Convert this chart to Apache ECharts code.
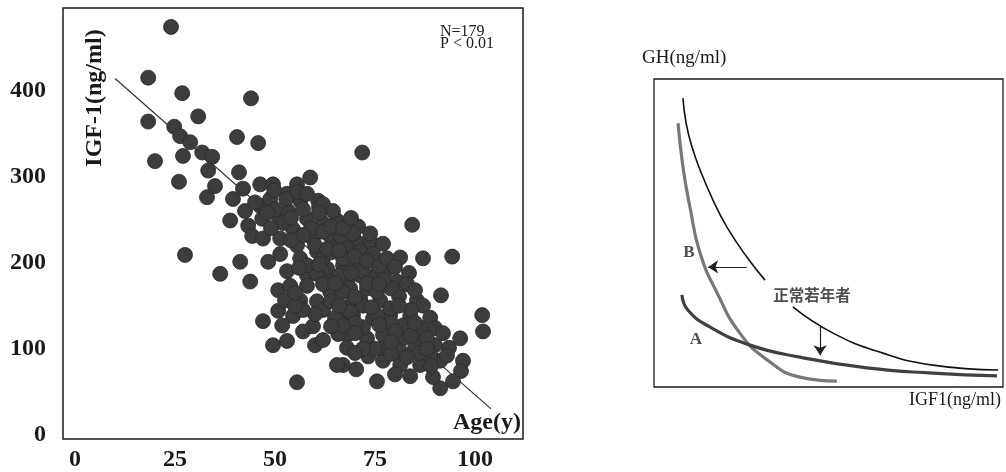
<!DOCTYPE html>
<html>
<head>
<meta charset="utf-8">
<script src="https://cdn.jsdelivr.net/npm/echarts@6/dist/echarts.min.js"></script>
<style>
html,body{margin:0;padding:0;background:#ffffff;}
#chart{width:1006px;height:472px;}
</style>
</head>
<body>
<div id="chart"></div>
<script>
// ---- Left panel: IGF-1 vs Age ----
const ageTicks = [0, 25, 50, 75, 100];
const igfTicks = [0, 100, 200, 300, 400];
const ageIgfPoints = [
  [24,474],[18.3,415],[26.8,397],[44,391],[18.3,364],[30.8,370],[24.8,358],[26.3,347],[28.8,340],[40.5,346],
  [45.8,339],[20,318],[27,324],[31.8,328],[34.3,323],[33.3,307],[41,305],[26,294],[35,289],[33,276],
  [58.8,299],[39.5,274],[38.8,249],[71.8,328],[27.5,209],[36.3,187],[41.3,201],[43.8,178],
  [42,286],[46.3,291],[49.5,291],[53,280],[55.5,291],[42.5,260],[46.3,266],[48.8,274],[56.3,272],[60.8,272],
  [43.3,243],[44.3,231],[47,228],[46.8,251],[50.8,254],[53.3,260],[51.3,228],[54.5,239],[58,251],[61.8,247],
  [65.5,249],[69.5,231],[63.8,231],[59.5,228],[55.5,220],[51.3,210],[48.3,201],[56.3,205],[60.5,213],[65.5,220],
  [67,197],[63,193],[58,185],[63.8,178],[68,178],
  [55.5,282],[52.8,274],[49.8,284],[61,264],[66.5,230],[71.3,222],[74,224],[75.3,200],[71.5,200],[62,268],
  [64.5,260],[70.8,242],[84.3,244],[77,222],
  [81.3,206],[87,205],[94.3,207],[77.8,191],[83.5,188],[80.5,178],[91.5,162],[81,161],[85.5,156],[101.8,139],
  [102,120],[88.8,136],[90,124],[96.3,112],[93.5,101],[90,104],[97,86],[96.5,74],[94.5,62],[91.3,54],
  [89.5,67],[83.8,68],[75.5,62],[70.3,76],[67,81],[73.3,91],[77,86],[81.3,81],[86.3,81],[91.3,86],
  [73,112],[78,120],[68,116],[68,101],[82,112],[86.3,109],[85,101],[81.3,97],[77,101],[88.8,92],
  [69.5,139],[74.5,135],[78.8,139],[83.8,138],[82,127],[86.3,124],[71.3,158],[76.3,156],[78.8,147],[68.8,150],
  [66.3,138],[68.8,170],[73,170],[75.5,166],[71.3,185],[74.5,184],[68,193],[71.3,213],[74.5,210],[68,216],
  [69.5,234],[73.8,234],[71.3,201],[67,205],
  [50.8,168],[53.8,173],[58,173],[50.8,144],[52.5,156],[56.3,156],[60.5,155],[47,132],[51.8,127],[54.5,138],
  [59.5,126],[49.5,104],[53,109],[60,104],[62,110],[65.8,117],[65,136],[65.5,81],[55.5,61],[63.8,166],
  [67,166],[60.5,187],[58,197],[72,190],[72,150],[75.5,139],[68.8,143],[77,116],
  [50,262],[52,246],[54,252],[57,262],[59,240],[62,236],[64,242],[67,240],[57,232],[60,220],
  [62,205],[64,212],[66,185],[69,188],[70,207],[73,202],[76,196],[78,205],[80,195],[79,170],
  [77,180],[83,175],[85,168],[87,150],[84,145],[81,150],[79,130],[76,128],[72,125],[70,130],
  [67,127],[64,126],[62,145],[64,155],[66,150],[60,140],[57,145],[55,150],[62,175],[65,176],
  [70,160],[74,148],[80,120],[84,115],[88,112],[86,95],[83,90],[79,94],[75,100],[72,100],
  [70,95],[79,108],[92,118],[93,92],[89,80],[80,70],[57,120],[55,165],[53,190],[56,194],
  [61,198],[63,216],[69,252],[54,226],[49,240],[45,270],[48,258],[58,280],[61,258],[66,214],
  [73,176],[76,175],[70,118],[85,130],[88,100]
];
const regressionLine = [[10,414],[104,30]];

// ---- Right panel: GH vs IGF1 schematic (arbitrary units 0-100) ----
const normalYoungA = [[8.3,93.8],[9.2,85.7],[10.9,77.9],[13.2,70.5],[16.9,60.7],[20.9,51.9],[26.6,42.2],[31.8,34.7]];
const normalYoungB = [[39.8,26.0],[51.3,17.5],[65.6,11.0],[79.9,7.1],[98.6,5.5]];
const curveB = [[6.9,85.7],[8.3,71.4],[10.3,58.4],[13.2,43.5],[18.1,30.5],[24.6,17.5],[32.4,8.8],[41.8,3.2],[52.4,1.9]];
const curveA = [[8.0,29.9],[9.7,25.0],[16.0,19.5],[27.5,13.6],[41.8,9.7],[61.0,6.2],[79.9,4.5],[98.3,3.6]];
const arrowShiftLeft = [[26.6,39.0],[15.5,39.0]];
const arrowShiftDown = [[47.6,19.5],[47.6,10.3]];

const serif = '"Liberation Serif","Times New Roman",serif';
const chart = echarts.init(document.getElementById('chart'), null, {renderer:'canvas'});

chart.setOption({
  backgroundColor: '#ffffff',
  animation: false,
  grid: [
    {left: 63, top: 8, width: 460, height: 433, show: true, borderColor: '#1a1a1a', borderWidth: 1.5, backgroundColor: 'transparent'},
    {left: 654, top: 79, width: 349, height: 308, show: true, borderColor: '#1a1a1a', borderWidth: 1.3, backgroundColor: 'transparent'}
  ],
  xAxis: [
    {gridIndex: 0, type: 'value', min: -3, max: 112,
     axisLine: {show: false}, axisTick: {show: false}, splitLine: {show: false},
     axisLabel: {customValues: ageTicks, margin: 9, fontFamily: serif, fontWeight: 'bold', fontSize: 24, color: '#1a1a1a'}},
    {gridIndex: 1, type: 'value', min: 0, max: 100, axisLine: {show: false}, axisTick: {show: false},
     splitLine: {show: false}, axisLabel: {show: false}}
  ],
  yAxis: [
    {gridIndex: 0, type: 'value', min: -5, max: 496,
     axisLine: {show: false}, axisTick: {show: false}, splitLine: {show: false},
     axisLabel: {customValues: igfTicks, margin: 17, fontFamily: serif, fontWeight: 'bold', fontSize: 24, color: '#1a1a1a'}},
    {gridIndex: 1, type: 'value', min: 0, max: 100, axisLine: {show: false}, axisTick: {show: false},
     splitLine: {show: false}, axisLabel: {show: false}}
  ],
  series: [
    {type: 'line', xAxisIndex: 0, yAxisIndex: 0, data: regressionLine, showSymbol: false, z: 1,
     lineStyle: {color: '#333', width: 1.2}},
    {type: 'scatter', xAxisIndex: 0, yAxisIndex: 0, data: ageIgfPoints, symbolSize: 15, z: 2,
     itemStyle: {color: '#3c3c3c', borderColor: '#2a2a2a', borderWidth: 0.8, opacity: 1}},
    {type: 'line', xAxisIndex: 1, yAxisIndex: 1, data: normalYoungA, smooth: true, showSymbol: false,
     lineStyle: {color: '#111', width: 1.6}},
    {type: 'line', xAxisIndex: 1, yAxisIndex: 1, data: normalYoungB, smooth: true, showSymbol: false,
     lineStyle: {color: '#111', width: 1.6}},
    {type: 'line', xAxisIndex: 1, yAxisIndex: 1, data: curveB, smooth: true, showSymbol: false,
     lineStyle: {color: '#787878', width: 3.2}},
    {type: 'line', xAxisIndex: 1, yAxisIndex: 1, data: curveA, smooth: true, showSymbol: false,
     lineStyle: {color: '#404040', width: 3.2}},
    {type: 'lines', coordinateSystem: 'cartesian2d', xAxisIndex: 1, yAxisIndex: 1,
     data: [{coords: arrowShiftLeft}, {coords: arrowShiftDown}],
     symbol: ['none', 'arrow'], symbolSize: 10, lineStyle: {color: '#222', width: 1.2, opacity: 1}},
    {type: 'scatter', xAxisIndex: 1, yAxisIndex: 1, symbolSize: 0, silent: true,
     data: [
       {value: [10.0, 43.5], label: {show: true, formatter: 'B', fontFamily: serif, fontWeight: 'bold', fontSize: 17, color: '#222'}},
       {value: [12.0, 15.3], label: {show: true, formatter: 'A', fontFamily: serif, fontWeight: 'bold', fontSize: 17, color: '#222'}},
       {value: [45.3, 29.9], label: {show: true, formatter: '正常若年者', fontFamily: '"Noto Sans CJK JP",sans-serif', fontWeight: 'bold', fontSize: 15.5, color: '#222'}}
     ],
     label: {position: 'inside'}}
  ],
  graphic: [
    {type: 'text', x: 95, y: 98, rotation: Math.PI / 2,
     style: {text: 'IGF-1(ng/ml)', font: 'bold 24px "Liberation Serif", serif', fill: '#1a1a1a', align: 'center', verticalAlign: 'middle'}},
    {type: 'text', x: 487, y: 423,
     style: {text: 'Age(y)', font: 'bold 24px "Liberation Serif", serif', fill: '#1a1a1a', align: 'center', verticalAlign: 'middle'}},
    {type: 'text', x: 440, y: 32,
     style: {text: 'N=179', font: '16px "Liberation Serif", serif', fill: '#1a1a1a', align: 'left', verticalAlign: 'middle'}},
    {type: 'text', x: 440, y: 44,
     style: {text: 'P < 0.01', font: '16px "Liberation Serif", serif', fill: '#1a1a1a', align: 'left', verticalAlign: 'middle'}},
    {type: 'text', x: 642, y: 58,
     style: {text: 'GH(ng/ml)', font: '19px "Liberation Serif", serif', fill: '#1a1a1a', align: 'left', verticalAlign: 'middle'}},
    {type: 'text', x: 1001, y: 400,
     style: {text: 'IGF1(ng/ml)', font: '18px "Liberation Serif", serif', fill: '#1a1a1a', align: 'right', verticalAlign: 'middle'}}
  ]
});
</script>
</body>
</html>
